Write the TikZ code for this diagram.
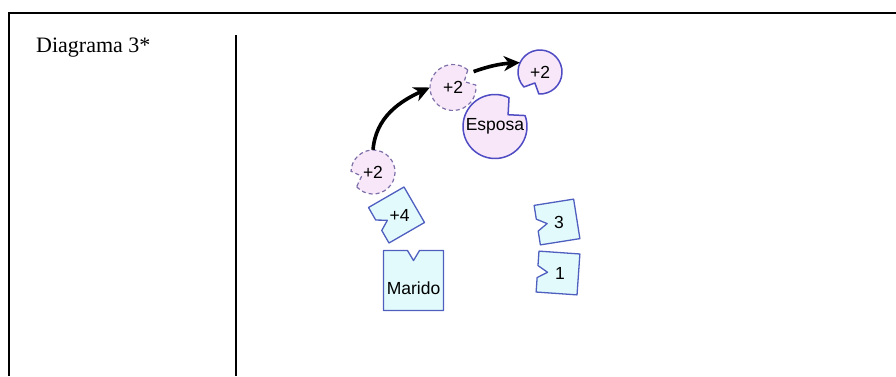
\documentclass[tikz,border=0pt]{standalone}
\usepackage{fontspec}
\usepackage{tikz}
\usepackage{xcolor}
\usetikzlibrary{calc,arrows.meta}
\newfontfamily\titlefont{Liberation Serif}
\newfontfamily\piecefont{Liberation Sans}
\definecolor{bite-fill}{HTML}{F7E7F9}
\definecolor{bite-line}{HTML}{4F4BC3}
\definecolor{ghost-line}{HTML}{7D70A8}
\definecolor{box-fill}{HTML}{E2FAFB}
\definecolor{box-line}{HTML}{4F5FC0}
\tikzset{
    piece-label/.style = {font=\piecefont\fontsize{17.5}{19}\selectfont, text=black, inner sep=0pt},
    bite-solid/.style = {draw=bite-line, fill=bite-fill, line width=1.5pt, line join=round},
    bite-dashed/.style = {draw=ghost-line, fill=bite-fill, line width=1.2pt, dash pattern=on 4pt off 3pt},
    puzzle-box/.style = {draw=box-line, fill=box-fill, line width=1.3pt, line join=round},
    move-arrow/.style = {line width=3.6pt, -{Stealth[length=16pt,width=15pt,inset=5pt]}},
}
% circle with a bite: name, centre, radius, bite angle, style, text
\newcommand\bitecircle[6]{%
    \path[#5] ($(#2)+(#4+22:#3)$) arc[start angle=#4+22, end angle=#4+338, radius=#3]
        -- ($(#2)+(#4:0.55*#3)$) -- cycle;
    \node[piece-label, circle, minimum size=#3*2pt] (#1) at (#2) {#6};
}
% square with a notch on its left side: name, centre, side, rotation, text, label options
\newcommand\notchbox[6]{%
    \draw[puzzle-box, shift={(#2)}, rotate=#4] (-#3/2,#3/2) -- (#3/2,#3/2) -- (#3/2,-#3/2)
        -- (-#3/2,-#3/2) -- (-#3/2,-6) -- (-#3/2+10,0) -- (-#3/2,6) -- cycle;
    \node[piece-label, #6] (#1) at (#2) {#5};
}

\begin{document}
\begin{tikzpicture}[x=1pt, y=1pt]
\useasboundingbox (0,0) rectangle (896,376);
\draw[line width=2.6pt] (896,363) -| (9,0);
\draw[line width=2pt] (236,341) -- (236,0);
\node[anchor=base west, inner sep=0pt, font=\titlefont\fontsize{22}{24}\selectfont] (title) at (36,324) {Diagrama 3*};

\bitecircle{plusA}{373,204}{22}{200}{bite-dashed}{+2}
\bitecircle{plusB}{453,288.5}{23}{28}{bite-dashed}{+2}
\bitecircle{plusC}{540,304}{22}{245}{bite-solid}{+2}
\bitecircle{esposa}{495,249.5}{32}{42}{bite-solid}{Esposa}

\notchbox{plusFour}{396.5,161}{41}{30}{+4}{xshift=3pt}
\notchbox{marido}{413.5,95.5}{60}{-90}{Marido}{yshift=-8pt}
\notchbox{three}{557,154}{40}{9}{3}{xshift=2pt}
\notchbox{one}{558,103}{41}{-4}{1}{xshift=2pt}

\draw[move-arrow] (plusA.north) to[out=85, in=205] (plusB.west);
\draw[move-arrow, shorten <=3pt] (plusB.40) to[bend left=8] (plusC.155);
\end{tikzpicture}
\end{document}
